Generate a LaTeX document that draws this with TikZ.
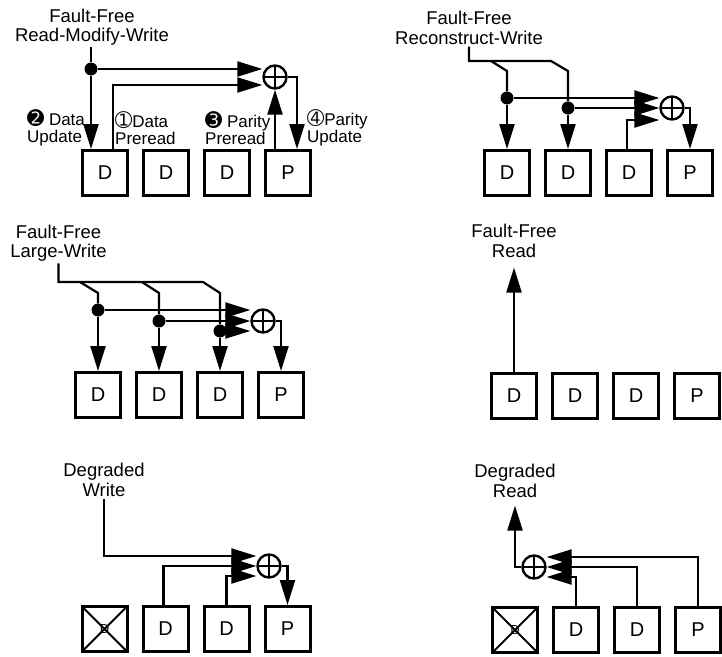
\documentclass[tikz,border=0pt]{standalone}
\usepackage{fontspec}
\setmainfont{Liberation Sans}
\newfontfamily\dingfont[Scale=1.2]{DejaVu Sans}
\usetikzlibrary{arrows.meta,positioning}

\begin{document}
\begin{tikzpicture}[x=1pt,y=-1pt,node distance=13pt,
box/.style={rectangle,draw,line width=3pt,minimum size=45pt,inner sep=0pt,font=\fontsize{20}{20}\selectfont},
failed/.style={box,font=\fontsize{13}{13}\selectfont,path picture={\draw[line width=2pt] (path picture bounding box.south west)--(path picture bounding box.north east) (path picture bounding box.north west)--(path picture bounding box.south east);}},
xor/.style={circle,draw,line width=2.4pt,minimum size=23pt,inner sep=0pt,path picture={\draw[line width=2.2pt] (path picture bounding box.north)--(path picture bounding box.south) (path picture bounding box.west)--(path picture bounding box.east);}},
junc/.style={circle,fill,inner sep=0pt,minimum size=13pt},
ttl/.style={align=center,inner sep=0pt,outer sep=2pt,font=\fontsize{18.5}{19.5}\selectfont},
lbl/.style={align=left,inner sep=0pt,anchor=west,font=\fontsize{17}{17.5}\selectfont},
wire/.style={line width=2.2pt},
arrow/.style={wire,-{Triangle[length=25pt,width=15pt]}}]
\useasboundingbox (0,0) rectangle (722,656);

% fault-free read-modify-write
\node[ttl] (t1) at (92,27) {Fault-Free\\Read-Modify-Write};
\node[box] (d11) at (105,173) {D};
\node[box,right=of d11] (d12) {D};
\node[box,right=of d12] (d13) {D};
\node[box,right=of d13] (p1) {P};
\node[xor] (x1) at (275,77) {};
\node[junc] (j1) at (91,69) {};
\draw[wire] (t1.south -| j1) -- (j1);
\draw[arrow] (j1) -- (j1 |- d11.north);
\draw[arrow] (j1) -- (x1.west |- j1);
\draw[arrow] ([xshift=8pt]d11.north) |- ([yshift=-8pt]x1.west);
\draw[arrow] (x1.south |- p1.north) -- (x1.south);
\draw[arrow] (x1.east) -| ([xshift=9pt]p1.north);
\node[lbl] (l1) at (27,128) {{\dingfont ➋} Data\\Update};
\node[lbl] (l2) at (115,128) {{\dingfont ➀}Data\\Preread};
\node[lbl] (l3) at (205,128) {{\dingfont ➌} Parity\\Preread};
\node[lbl] (l4) at (307,128) {{\dingfont ➃}Parity\\Update};

% fault-free reconstruct-write
\node[ttl] (t2) at (469,28) {Fault-Free\\Reconstruct-Write};
\node[box] (d21) at (507,173) {D};
\node[box,right=of d21] (d22) {D};
\node[box,right=of d22] (d23) {D};
\node[box,right=of d23] (p2) {P};
\node[xor] (x2) at (672,108) {};
\node[junc] (j21) at (507,98) {};
\node[junc] (j22) at (568,108) {};
\draw[wire] (t2.south) |- (551,61) -- (568,71) -- (j22);
\draw[wire] (491,61) -- (507,71) -- (j21);
\draw[arrow] (j21) -- (j21 |- d21.north);
\draw[arrow] (j22) -- (j22 |- d22.north);
\draw[arrow] (j21) -- (x2.west |- j21);
\draw[arrow] (j22) -- (x2.west |- j22);
\draw[arrow] ([xshift=-2pt]d23.north) |- ([yshift=-12pt]x2.west);
\draw[arrow] (x2.east) -| (p2.north);

% fault-free large-write
\node[ttl] (t3) at (58.5,243) {Fault-Free\\Large-Write};
\node[box] (d31) at (98,395) {D};
\node[box,right=of d31] (d32) {D};
\node[box,right=of d32] (d33) {D};
\node[box,right=of d33] (p3) {P};
\node[xor] (x3) at (263,321) {};
\node[junc] (j31) at (98,310) {};
\node[junc] (j32) at (159,321) {};
\node[junc] (j33) at (220,331) {};
\draw[wire] (t3.south) |- (203,282) -- (220,293) -- (j33);
\draw[wire] (80,282) -- (98,293) -- (j31);
\draw[wire] (142,282) -- (159,293) -- (j32);
\foreach \j/\d in {j31/d31,j32/d32,j33/d33}{
  \draw[arrow] (\j) -- (\j |- \d.north);
  \draw[arrow] (\j) -- (x3.west |- \j);
}
\draw[arrow] (x3.east) -| (p3.north);

% fault-free read
\node[ttl] (t4) at (514,241) {Fault-Free\\Read};
\node[box] (d41) at (514,396) {D};
\node[box,right=of d41] (d42) {D};
\node[box,right=of d42] (d43) {D};
\node[box,right=of d43] (p4) {P};
\draw[arrow,shorten >=8pt] (d41.north) -- (t4.south);

% degraded write
\node[ttl] (t5) at (104,480) {Degraded\\Write};
\node[failed] (f5) at (104.5,629) {D};
\node[box,right=of f5] (d51) {D};
\node[box,right=of d51] (d52) {D};
\node[box,right=of d52] (p5) {P};
\node[xor] (x5) at (269,566) {};
\draw[arrow] (t5.south) |- ([yshift=10pt]x5.west);
\draw[arrow] ([xshift=-2pt]d51.north) |- (x5.west);
\draw[arrow] (d52.north) |- ([yshift=-10pt]x5.west);
\draw[arrow] (x5.east) -| (p5.north);

% degraded read
\node[ttl] (t6) at (515,481) {Degraded\\Read};
\node[failed] (f6) at (515,630) {D};
\node[box,right=of f6] (d61) {D};
\node[box,right=of d61] (d62) {D};
\node[box,right=of d62] (p6) {P};
\node[xor] (x6) at (534,567) {};
\draw[arrow,shorten >=6pt] (x6.west) -| (t6.south);
\draw[arrow] (p6.north) |- ([yshift=10pt]x6.east);
\draw[arrow] (d62.north) |- (x6.east);
\draw[arrow] (d61.north) |- ([yshift=-10pt]x6.east);
\end{tikzpicture}
\end{document}
